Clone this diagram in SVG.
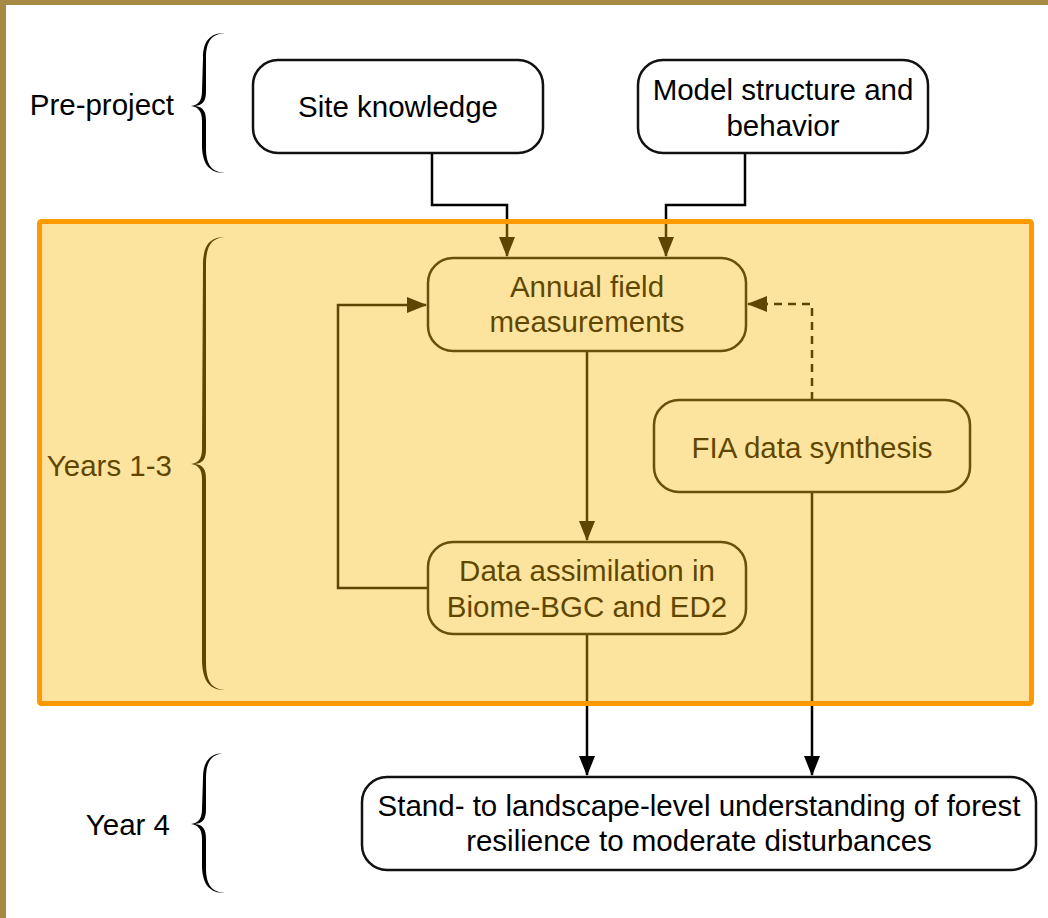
<svg xmlns="http://www.w3.org/2000/svg" width="1048" height="918" viewBox="0 0 1048 918">
<style>
.t{font-family:"Liberation Sans",Arial,Helvetica,sans-serif;font-size:29.5px;fill:#000}
.m{text-anchor:middle}
.e{text-anchor:end}
.box{fill:#fff;stroke:#111;stroke-width:2.5}
.line{fill:none;stroke:#000;stroke-width:2.5}
.dash{stroke-dasharray:8 6}
.brace{fill:#000}
</style>
<defs>
<marker id="ah" viewBox="0 0 20 16" refX="19" refY="8" markerWidth="20" markerHeight="16" markerUnits="userSpaceOnUse" orient="auto">
<path d="M0,0 L20,8 L0,16 Z" fill="#000"/>
</marker>
</defs>
<rect x="0" y="0" width="1048" height="918" fill="#a68a44"/>
<rect x="6" y="5" width="1042" height="913" fill="#fff"/>

<g id="labels">
<text class="t e" x="174" y="115">Pre-project</text>
<path class="brace" d="M225,33 C210,33 203,41 203,58 L202,91 C202,101 198,105 191,106 C198,107 202,111 202,121 L202,148 C203,165 210,173 225,173 C212,172 206,165 206,148 L206,121 C206,111 203,107 195,106 C203,105 206,101 206,91 L206,58 C206,41 212,34 225,33 Z"/>
<text class="t e" x="172" y="476">Years 1-3</text>
<path class="brace" d="M225,237 C210,237 203,245 203,265 L202,449 C202,459 198,463 191,464 C198,465 202,469 202,479 L202,662 C203,682 210,690 225,690 C212,689 206,682 206,662 L206,479 C206,469 203,465 195,464 C203,463 206,459 206,449 L206,265 C206,245 212,238 225,237 Z"/>
<text class="t e" x="170" y="835">Year 4</text>
<path class="brace" d="M225,753 C210,753 203,761 203,778 L202,809 C202,819 198,823 191,824 C198,825 202,829 202,839 L202,868 C203,885 210,893 225,893 C212,892 206,885 206,868 L206,839 C206,829 203,825 195,824 C203,823 206,819 206,809 L206,778 C206,761 212,754 225,753 Z"/>
</g>

<g id="connectors">
<path class="line" d="M432,153 L432,205 L507,205 L507,256" marker-end="url(#ah)"/>
<path class="line" d="M745,153 L745,205 L666,205 L666,256" marker-end="url(#ah)"/>
<path class="line" d="M587,351 L587,540" marker-end="url(#ah)"/>
<path class="line" d="M428,588 L338,588 L338,305 L426,305" marker-end="url(#ah)"/>
<path class="line dash" d="M812,400 L812,304 L748,304" marker-end="url(#ah)"/>
<path class="line" d="M587,634 L587,775" marker-end="url(#ah)"/>
<path class="line" d="M812,492 L812,775" marker-end="url(#ah)"/>
</g>

<g id="site-knowledge">
<rect class="box" x="253" y="60" width="290" height="93" rx="25"/>
<text class="t m" x="398" y="117">Site knowledge</text>
</g>
<g id="model-structure">
<rect class="box" x="638" y="60" width="290" height="93" rx="25"/>
<text class="t m" x="783" y="100">Model structure and</text>
<text class="t m" x="783" y="136">behavior</text>
</g>
<g id="annual-field">
<rect class="box" x="428" y="258" width="318" height="93" rx="25"/>
<text class="t m" x="587" y="297">Annual field</text>
<text class="t m" x="587" y="332">measurements</text>
</g>
<g id="fia">
<rect class="box" x="654" y="400" width="316" height="92" rx="25"/>
<text class="t m" x="812" y="458">FIA data synthesis</text>
</g>
<g id="data-assimilation">
<rect class="box" x="428" y="542" width="318" height="92" rx="25"/>
<text class="t m" x="587" y="581">Data assimilation in</text>
<text class="t m" x="587" y="617">Biome-BGC and ED2</text>
</g>

<rect id="years-band" x="39.5" y="221.5" width="992" height="482" rx="2" fill="#fab800" fill-opacity="0.38" stroke="#ff9900" stroke-width="5"/>

<g id="stand-landscape">
<rect class="box" x="362" y="777" width="674" height="93" rx="25"/>
<text class="t m" x="699" y="816">Stand- to landscape-level understanding of forest</text>
<text class="t m" x="699" y="851">resilience to moderate disturbances</text>
</g>
</svg>
